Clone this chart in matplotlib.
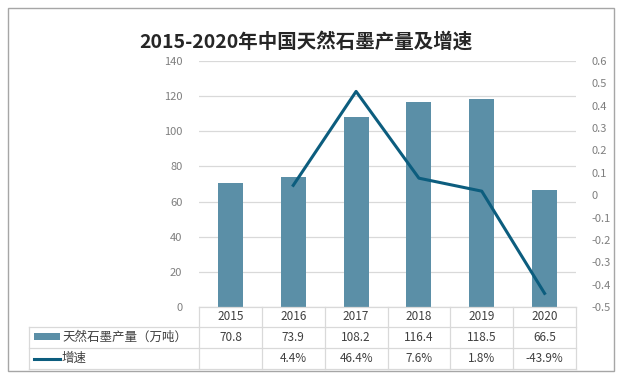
import numpy as np
import matplotlib
matplotlib.use('Agg')
import matplotlib.pyplot as plt
from matplotlib.lines import Line2D
from matplotlib.patches import Rectangle

plt.rcParams['font.family'] = ['Noto Sans CJK SC', 'DejaVu Sans']

# data
years = ['2015', '2016', '2017', '2018', '2019', '2020']
output = [70.8, 73.9, 108.2, 116.4, 118.5, 66.5]          # 万吨
growth = [np.nan, 0.044, 0.464, 0.076, 0.018, -0.439]
growth_labels = ['', '4.4%', '46.4%', '7.6%', '1.8%', '-43.9%']
bar_name = '天然石墨产量（万吨）'
line_name = '增速'
title = '2015-2020年中国天然石墨产量及增速'

bar_color = '#5b8fa7'
line_color = '#0c5d7e'
grid_color = '#d9d9d9'
tick_color = '#7f7f7f'
text_color = '#404040'

W, H = 619, 373
fig = plt.figure(figsize=(W / 100, H / 100), dpi=100)

def fx(px):
    return px / W

def fy(py):
    return 1 - py / H

# plot area in pixels
L, R, T, B = 199, 576, 61, 307
ax = fig.add_axes([fx(L), fy(B), fx(R) - fx(L), fy(T) - fy(B)])
x = np.arange(len(years))
ax.bar(x, output, width=0.4, color=bar_color, zorder=2)
ax.set_xlim(-0.5, len(years) - 0.5)
ax.set_ylim(0, 140)
ax.set_yticks(np.arange(0, 141, 20))
ax.set_xticks([])
ax.grid(axis='y', color=grid_color, linewidth=0.9, zorder=0)
for s in ax.spines.values():
    s.set_visible(False)
ax.tick_params(axis='y', length=0, pad=12, labelsize=8, labelcolor=tick_color)

ax2 = ax.twinx()
ax2.plot(x, growth, color=line_color, linewidth=2.2, zorder=3)
ax2.set_ylim(-0.5, 0.6)
rticks = [round(v, 1) + 0.0 for v in np.arange(-0.5, 0.61, 0.1)]
ax2.set_yticks(rticks)
ax2.set_yticklabels(['0' if abs(v) < 1e-9 else f'{v:g}' for v in rticks])
for s in ax2.spines.values():
    s.set_visible(False)
ax2.tick_params(axis='y', length=0, pad=11, labelsize=8, labelcolor=tick_color)

# title
fig.text(fx(306), fy(42), title, ha='center', va='center', fontsize=14,
         fontweight='bold', color='#262626')

# data table drawn below the plot area
rows = [307, 327, 348, 369]
tl = 29
colw = (R - L) / len(years)

def hline(y, x0, x1):
    fig.add_artist(Line2D([fx(x0), fx(x1)], [fy(y), fy(y)], color=grid_color, linewidth=0.9))

def vline(xp, y0, y1):
    fig.add_artist(Line2D([fx(xp), fx(xp)], [fy(y0), fy(y1)], color=grid_color, linewidth=0.9))

hline(rows[0], L, R)
for y in rows[1:]:
    hline(y, tl, R)
vline(tl, rows[1], rows[3])
for i in range(len(years) + 1):
    vline(L + i * colw, rows[0], rows[3])

for i, yr in enumerate(years):
    cx = L + (i + 0.5) * colw
    fig.text(fx(cx), fy((rows[0] + rows[1]) / 2), yr, ha='center', va='center',
             fontsize=8.5, color=text_color)
    fig.text(fx(cx), fy((rows[1] + rows[2]) / 2), f'{output[i]:.1f}', ha='center',
             va='center', fontsize=8.5, color=text_color)
    fig.text(fx(cx), fy((rows[2] + rows[3]) / 2), growth_labels[i], ha='center',
             va='center', fontsize=8.5, color=text_color)

# legend keys in the first column
fig.add_artist(Rectangle((fx(34), fy(340)), fx(60) - fx(34), fy(333) - fy(340),
                         facecolor=bar_color, edgecolor='none'))
fig.add_artist(Line2D([fx(34), fx(60)], [fy(359), fy(359)], color=line_color, linewidth=2.2))
fig.text(fx(62), fy((rows[1] + rows[2]) / 2), bar_name, ha='left', va='center',
         fontsize=9, color=text_color)
fig.text(fx(62), fy((rows[2] + rows[3]) / 2), line_name, ha='left', va='center',
         fontsize=9, color=text_color)

# chart border
fig.add_artist(Rectangle((fx(8), fy(371)), fx(614) - fx(8), fy(8) - fy(371),
                         facecolor='none', edgecolor='#a6a6a6', linewidth=1.0))

fig.savefig('out.png', dpi=100)
